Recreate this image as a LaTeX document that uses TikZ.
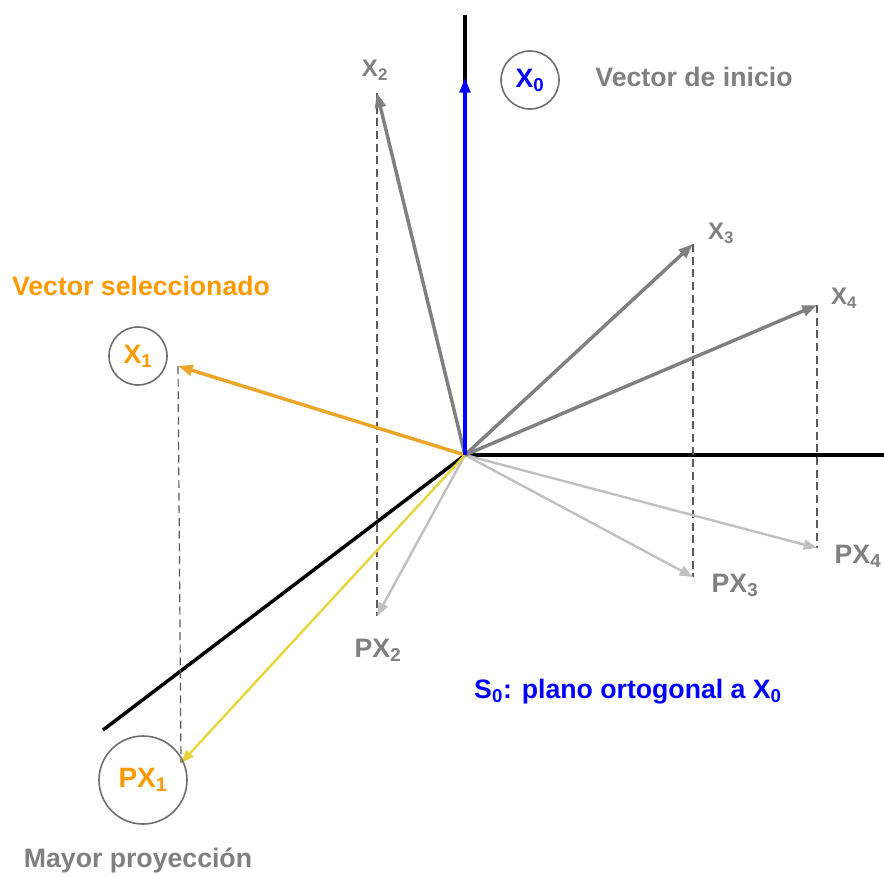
\documentclass[tikz,border=0pt]{standalone}
\usepackage{fontspec}
\setmainfont{Liberation Sans}
\usetikzlibrary{arrows.meta}
\definecolor{lgray}{RGB}{128,128,128}
\definecolor{vgray}{RGB}{128,128,128}
\definecolor{pgray}{RGB}{192,192,192}
\definecolor{dgray}{RGB}{90,90,90}
\definecolor{cgray}{RGB}{110,110,110}
\definecolor{txtorange}{RGB}{255,153,0}
\definecolor{arrorange}{RGB}{235,165,40}
\definecolor{arryellow}{RGB}{232,212,60}
\definecolor{vblue}{RGB}{0,0,255}
\begin{document}
\begin{tikzpicture}[x=0.75pt,y=-0.75pt,font=\bfseries,
  axis/.style={draw=black,line width=2.6pt},
  vec/.style={line width=2.6pt,-{Triangle[length=11pt,width=8pt]}},
  gvec/.style={vec,draw=vgray,fill=vgray},
  pvec/.style={line width=1.8pt,draw=pgray,fill=pgray,-{Triangle[length=10pt,width=7.5pt]}},
  proj/.style={draw=dgray,line width=0.9pt,dash pattern=on 6pt off 3.5pt},
  biglbl/.style={font=\fontsize{20}{23}\selectfont\bfseries},
  smlbl/.style={text=lgray,font=\fontsize{18}{21}\selectfont\bfseries},
  pxlbl/.style={text=lgray,font=\fontsize{20}{23}\selectfont\bfseries},
  ring/.style={circle,draw=cgray,line width=1.2pt,inner sep=0pt}]
\useasboundingbox (0,0) rectangle (884,875);
% points
\coordinate (O) at (465,455);
\coordinate (ytop) at (465,15);
\coordinate (xend) at (884,455);
\coordinate (zend) at (103,730);
\coordinate (p0) at (465,78);
\coordinate (p1) at (178,366);
\coordinate (q1) at (181,763);
\coordinate (p2) at (377,93);
\coordinate (q2) at (377,616);
\coordinate (p3) at (693,244);
\coordinate (q3) at (693,577);
\coordinate (p4) at (817,305);
\coordinate (q4) at (817,548);
% axes
\draw[axis] (O) -- (ytop);
\draw[axis] (O) -- (xend);
\draw[axis] (O) -- (zend);
% dashed projections
\draw[proj] (p1) -- (q1);
\draw[proj] (p2) -- (q2);
\draw[proj] (p3) -- (q3);
\draw[proj] (p4) -- (q4);
% projected vectors
\draw[pvec] (O) -- (q2);
\draw[pvec] (O) -- (q3);
\draw[pvec] (O) -- (q4);
\draw[line width=1.8pt,draw=arryellow,fill=arryellow,-{Triangle[length=10pt,width=7.5pt]}] (O) -- (q1);
% vectors
\draw[gvec] (O) -- (p2);
\draw[gvec] (O) -- (p3);
\draw[gvec] (O) -- (p4);
\draw[vec,draw=arrorange,fill=arrorange] (O) -- (p1);
\draw[vec,draw=vblue,fill=vblue] (O) -- (p0);
% labels
\node[ring,minimum size=43.5pt,text=vblue,font=\fontsize{20}{22}\selectfont\bfseries] (x0) at (530,80) {X\textsubscript{0}};
\node[biglbl,text=lgray] (inicio) at (694,77) {Vector de inicio};
\node[ring,minimum size=43.5pt,text=txtorange,font=\fontsize{20}{22}\selectfont\bfseries] (x1) at (138,356) {X\textsubscript{1}};
\node[biglbl,text=txtorange] (sel) at (141,286) {Vector seleccionado};
\node[ring,minimum size=66pt,text=txtorange,font=\fontsize{21}{24}\selectfont\bfseries] (px1) at (143,780) {PX\textsubscript{1}};
\node[font=\fontsize{20}{23}\selectfont\bfseries,text=lgray] (mayor) at (138,860) {Mayor proyección};
\node[smlbl] (x2l) at (375,70) {X\textsubscript{2}};
\node[smlbl] (x3l) at (721,233) {X\textsubscript{3}};
\node[smlbl] (x4l) at (844,298) {X\textsubscript{4}};
\node[pxlbl] (px2l) at (378,650) {PX\textsubscript{2}};
\node[pxlbl] (px3l) at (735,585) {PX\textsubscript{3}};
\node[pxlbl] (px4l) at (858,556) {PX\textsubscript{4}};
\node[biglbl,text=vblue] (s0) at (628,692) {S\textsubscript{0}: plano ortogonal a X\textsubscript{0}};
\end{tikzpicture}
\end{document}
